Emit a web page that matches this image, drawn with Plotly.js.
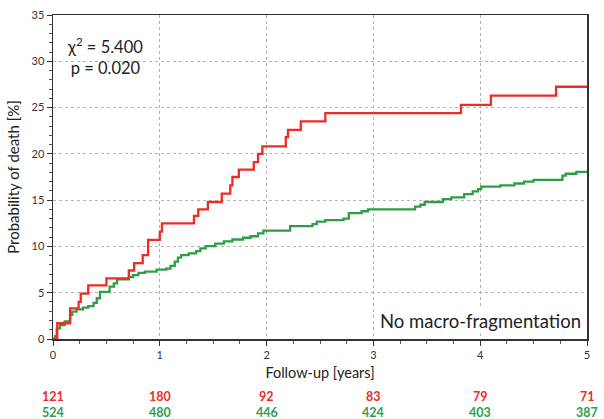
<!DOCTYPE html>
<html>
<head>
<meta charset="utf-8">
<script src="https://cdn.plot.ly/plotly-3.0.1.min.js"></script>
<style>html,body{margin:0;padding:0;background:#fff;}#chart{width:604px;height:419px;}</style>
</head>
<body>
<div id="chart"></div>
<script>
// Red group (macro-fragmentation) cumulative probability of death [%]
var redT = [0, 0.04, 0.16, 0.24, 0.26, 0.33, 0.50, 0.71, 0.76, 0.84, 0.89, 1.00, 1.02, 1.32, 1.36, 1.45, 1.58, 1.66, 1.68, 1.74, 1.88, 1.92, 1.96, 2.18, 2.20, 2.32, 2.55, 3.82, 4.10, 4.71, 5.0];
var redV = [0, 1.7, 3.3, 4.0, 4.9, 5.8, 6.55, 7.4, 8.2, 9.07, 10.7, 11.6, 12.5, 13.3, 14.0, 14.8, 15.7, 16.6, 17.5, 18.3, 19.1, 20.0, 20.8, 21.8, 22.6, 23.5, 24.4, 25.3, 26.3, 27.25, 27.25];
// Green group (no macro-fragmentation)
var greenT = [0, 0.02, 0.035, 0.066, 0.11, 0.16, 0.18, 0.22, 0.28, 0.33, 0.38, 0.41, 0.44, 0.53, 0.57, 0.60, 0.71, 0.75, 0.80, 0.86, 0.97, 1.06, 1.10, 1.14, 1.17, 1.20, 1.27, 1.34, 1.38, 1.43, 1.52, 1.60, 1.68, 1.78, 1.85, 1.92, 1.97, 2.22, 2.43, 2.47, 2.55, 2.72, 2.77, 2.89, 2.95, 3.39, 3.44, 3.48, 3.65, 3.73, 3.85, 3.93, 3.98, 4.01, 4.19, 4.32, 4.41, 4.50, 4.77, 4.80, 4.90, 5.0];
var greenV = [0, 0.3, 1.15, 1.5, 1.9, 2.6, 2.95, 3.2, 3.4, 3.55, 3.9, 4.4, 5.1, 5.65, 6.0, 6.45, 6.7, 6.9, 7.15, 7.27, 7.5, 7.6, 7.9, 8.35, 8.8, 9.07, 9.25, 9.5, 9.8, 10.04, 10.3, 10.55, 10.75, 10.94, 11.1, 11.4, 11.7, 12.2, 12.4, 12.67, 12.85, 13.0, 13.6, 13.8, 14.0, 14.3, 14.5, 14.8, 15.1, 15.3, 15.65, 15.95, 16.2, 16.45, 16.6, 16.8, 17.0, 17.2, 17.65, 17.85, 18.05, 18.05];
// Numbers at risk
var riskYears = [0, 1, 2, 3, 4, 5];
var riskRed = ["121", "180", "92", "83", "79", "71"];
var riskGreen = ["524", "480", "446", "424", "403", "387"];
var statLines = ["χ<sup>2</sup> = 5.400", "p = 0.020"];
var panelLabel = "No macro-fragmentation";

var RED = "#ee2b24", GREEN = "#2e9e44";
var FONT = "Lato, 'Open Sans', sans-serif";

var traces = [
  {x: greenT, y: greenV, type: "scatter", mode: "lines", line: {shape: "hv", color: GREEN, width: 2.3}, hoverinfo: "skip"},
  {x: redT, y: redV, type: "scatter", mode: "lines", line: {shape: "hv", color: RED, width: 2.3}, hoverinfo: "skip"}
];

var ann = [];
ann.push({xref: "paper", yref: "paper", x: 0.097, y: 0.873, xanchor: "center", yanchor: "middle", align: "center", text: statLines.join("<br>"), showarrow: false, font: {family: FONT, size: 16.5, color: "#222"}});
ann.push({xref: "paper", yref: "paper", x: 0.80, y: 0.056, xanchor: "center", yanchor: "middle", text: panelLabel, showarrow: false, bgcolor: "#fff", font: {family: FONT, size: 18.5, color: "#222"}});
for (var i = 0; i < riskYears.length; i++) {
  ann.push({xref: "x", yref: "paper", x: riskYears[i], y: -0.178, xanchor: "center", yanchor: "middle", text: "<b>" + riskRed[i] + "</b>", showarrow: false, font: {family: FONT, size: 12.5, color: RED}});
  ann.push({xref: "x", yref: "paper", x: riskYears[i], y: -0.228, xanchor: "center", yanchor: "middle", text: "<b>" + riskGreen[i] + "</b>", showarrow: false, font: {family: FONT, size: 12.5, color: GREEN}});
}

var layout = {
  width: 604, height: 419,
  margin: {l: 53, r: 17, t: 15, b: 80, pad: 0},
  paper_bgcolor: "#fff", plot_bgcolor: "#fff",
  showlegend: false,
  font: {family: FONT, size: 11, color: "#333"},
  xaxis: {
    range: [0, 5], dtick: 1, tick0: 0,
    showline: true, linecolor: "#333", linewidth: 1.5, mirror: true,
    ticks: "outside", ticklen: 5, tickcolor: "#333",
    showgrid: true, gridcolor: "#b4aeae", griddash: "3px,3px", gridwidth: 1,
    zeroline: false,
    minor: {dtick: 0.25, ticks: "outside", ticklen: 3, tickcolor: "#555", showgrid: false},
    tickfont: {family: FONT, size: 11, color: "#333"},
    title: {text: "Follow-up [years]", font: {family: FONT, size: 14.5, color: "#222"}, standoff: 8}
  },
  yaxis: {
    range: [0, 35], dtick: 5, tick0: 0,
    showline: true, linecolor: "#333", linewidth: 1.5, mirror: true,
    ticks: "outside", ticklen: 5, tickcolor: "#333",
    showgrid: true, gridcolor: "#b4b4b4", griddash: "3px,3px", gridwidth: 1,
    zeroline: false,
    minor: {dtick: 1, ticks: "outside", ticklen: 3, tickcolor: "#555", showgrid: false},
    tickfont: {family: FONT, size: 11, color: "#333"},
    title: {text: "Probability of death [%]", font: {family: FONT, size: 15, color: "#222"}, standoff: 8}
  },
  annotations: ann
};

Plotly.newPlot("chart", traces, layout, {staticPlot: true, displayModeBar: false});
</script>
</body>
</html>
